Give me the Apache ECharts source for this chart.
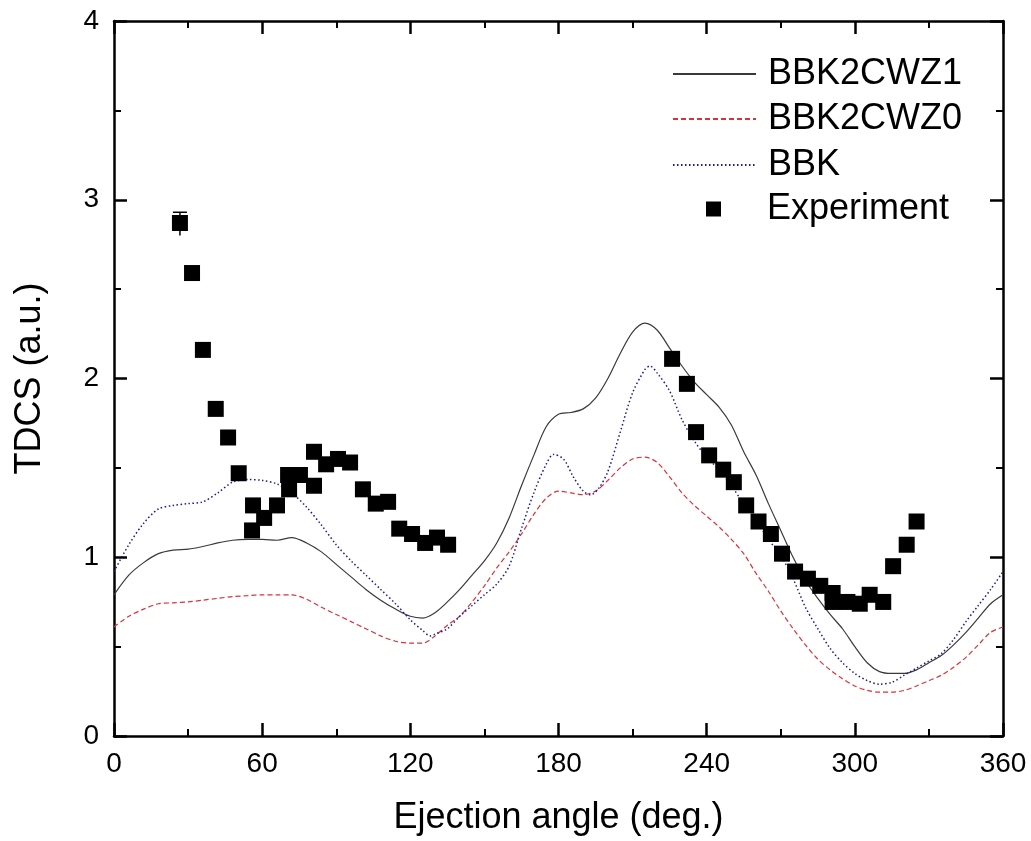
<!DOCTYPE html>
<html>
<head>
<meta charset="utf-8">
<script src="https://cdn.jsdelivr.net/npm/echarts@6/dist/echarts.min.js"></script>
<style>
html,body{margin:0;padding:0;background:#fff;}
#chart{width:1031px;height:841px;}
</style>
</head>
<body>
<div id="chart"></div>
<script>
// ---- data ----
const xTicks = [0, 60, 120, 180, 240, 300, 360];
const yTicks = [0, 1, 2, 3, 4];

const z1Angles = [0,6,12,18,24,30,36,42,48,54,60,66,72,78,84,90,96,102,108,114,120,125,130,135,140,145,150,155,160,165,170,175,180,185,190,195,200,205,210,215,220,225,230,235,240,245,250,255,260,265,270,275,280,285,290,295,300,305,310,315,320,325,330,335,340,345,350,355,360];
const z1Values = [0.79,0.90,0.97,1.02,1.04,1.045,1.06,1.08,1.095,1.10,1.10,1.095,1.11,1.08,1.03,0.96,0.89,0.82,0.76,0.71,0.67,0.66,0.69,0.75,0.82,0.90,0.98,1.08,1.22,1.40,1.57,1.73,1.80,1.81,1.83,1.89,2.00,2.14,2.26,2.31,2.27,2.17,2.07,1.98,1.91,1.84,1.74,1.59,1.46,1.30,1.15,1.00,0.87,0.77,0.68,0.60,0.50,0.41,0.36,0.35,0.35,0.37,0.41,0.45,0.51,0.58,0.66,0.74,0.79];

const z0Angles = [0,6,12,18,24,30,36,42,48,54,60,66,72,78,84,90,96,102,108,114,120,125,130,135,140,145,150,155,160,165,170,175,180,185,190,195,200,205,210,215,220,225,230,235,240,245,250,255,260,265,270,275,280,285,290,295,300,305,310,315,320,325,330,335,340,345,350,355,360];
const z0Values = [0.61,0.67,0.71,0.74,0.745,0.75,0.76,0.77,0.78,0.785,0.79,0.79,0.79,0.765,0.72,0.68,0.64,0.60,0.56,0.53,0.52,0.52,0.56,0.62,0.67,0.75,0.84,0.94,1.03,1.13,1.24,1.33,1.37,1.36,1.35,1.37,1.43,1.50,1.55,1.56,1.53,1.45,1.36,1.29,1.23,1.17,1.10,1.02,0.91,0.81,0.70,0.60,0.51,0.43,0.37,0.32,0.28,0.255,0.245,0.245,0.255,0.28,0.31,0.34,0.385,0.44,0.51,0.58,0.61];

const bbkAngles = [0,6,12,18,24,30,36,42,48,54,60,66,72,78,84,90,96,102,108,114,120,125,128,130,135,140,145,150,155,160,165,170,175,178,182,186,190,193,196,200,205,210,215,217,220,225,230,235,240,245,250,255,260,265,270,275,280,285,290,295,300,305,310,315,320,325,330,335,340,345,350,355,360];
const bbkValues = [0.92,1.07,1.19,1.27,1.29,1.30,1.31,1.36,1.42,1.435,1.43,1.41,1.36,1.28,1.18,1.07,0.98,0.90,0.82,0.74,0.65,0.59,0.56,0.57,0.60,0.67,0.73,0.79,0.85,0.95,1.16,1.36,1.52,1.575,1.55,1.45,1.37,1.35,1.38,1.48,1.70,1.92,2.05,2.07,2.03,1.93,1.77,1.65,1.56,1.49,1.40,1.30,1.21,1.10,1.01,0.88,0.72,0.60,0.49,0.41,0.35,0.31,0.29,0.30,0.34,0.38,0.42,0.46,0.54,0.64,0.73,0.82,0.92];

const expAngles = [26.7,31.6,36,41.2,46.2,50.5,55.9,56.3,60.8,66,70.9,70.5,75.3,81,81,85.9,90.7,95.6,100.8,106,111,115.5,120.7,126,130.8,135.3,226,232,235.7,241,246.7,251,256,261,266,270.5,275.8,281,286,291,291,297,302,306,311.5,315.5,321,325];
const expValues = [2.87,2.59,2.16,1.83,1.67,1.47,1.15,1.29,1.22,1.29,1.38,1.46,1.46,1.40,1.59,1.52,1.55,1.53,1.38,1.30,1.31,1.16,1.13,1.08,1.11,1.07,2.11,1.97,1.70,1.57,1.49,1.42,1.29,1.20,1.13,1.02,0.92,0.88,0.84,0.80,0.75,0.75,0.74,0.79,0.75,0.95,1.07,1.20];

// error bar (only visible one): angle, low, high
const errAngles = [26.7];
const errLow = [2.80];
const errHigh = [2.93];

// ---- build ----
const pairs = (xs, ys) => xs.map((x, i) => [x, ys[i]]);
const FONT = '"Liberation Sans", Arial, sans-serif';

const chart = echarts.init(document.getElementById('chart'), null, {renderer: 'canvas'});

const axisCommonX = {
  type: 'value', min: xTicks[0], max: xTicks[xTicks.length - 1], interval: 60,
  axisLine: {show: true, onZero: false, lineStyle: {color: '#000', width: 2.5}},
  axisTick: {show: true, inside: true, length: 13, lineStyle: {color: '#000', width: 2.5}},
  minorTick: {show: true, splitNumber: 2, length: 7, lineStyle: {color: '#000', width: 2}},
  splitLine: {show: false}
};
const axisCommonY = {
  type: 'value', min: yTicks[0], max: yTicks[yTicks.length - 1], interval: 1,
  axisLine: {show: true, onZero: false, lineStyle: {color: '#000', width: 2.5}},
  axisTick: {show: true, inside: true, length: 13, lineStyle: {color: '#000', width: 2.5}},
  minorTick: {show: true, splitNumber: 2, length: 7, lineStyle: {color: '#000', width: 2}},
  splitLine: {show: false}
};

const legendBase = {
  orient: 'vertical', padding: 0, itemGap: 0,
  textStyle: {fontFamily: FONT, fontSize: 36, color: '#000', lineHeight: 36},
  selectedMode: false
};
const lineLegend = (name, top) => Object.assign({}, legendBase, {
  left: 672, top: top, itemWidth: 83, itemHeight: 14,
  itemStyle: {opacity: 0},
  data: [name],
  textStyle: Object.assign({}, legendBase.textStyle, {padding: [0, 0, 0, 7]})
});

const option = {
  animation: false,
  backgroundColor: '#fff',
  grid: {left: 114, right: 28, top: 21, bottom: 104, containLabel: false},
  xAxis: [
    Object.assign({}, axisCommonX, {
      position: 'bottom',
      name: 'Ejection angle (deg.)', nameLocation: 'middle', nameGap: 64,
      nameTextStyle: {fontFamily: FONT, fontSize: 36, color: '#000'},
      axisLabel: {show: true, margin: 14, fontFamily: FONT, fontSize: 28, color: '#000'}
    }),
    Object.assign({}, axisCommonX, {position: 'top', axisLabel: {show: false}})
  ],
  yAxis: [
    Object.assign({}, axisCommonY, {
      position: 'left',
      name: 'TDCS (a.u.)', nameLocation: 'middle', nameGap: 66,
      nameTextStyle: {fontFamily: FONT, fontSize: 36, color: '#000'},
      axisLabel: {show: true, margin: 15, fontFamily: FONT, fontSize: 28, color: '#000'}
    }),
    Object.assign({}, axisCommonY, {position: 'right', axisLabel: {show: false}})
  ],
  legend: [
    lineLegend('BBK2CWZ1', 56),
    lineLegend('BBK2CWZ0', 101),
    lineLegend('BBK', 147),
    Object.assign({}, legendBase, {left: 706, top: 191, itemWidth: 15, itemHeight: 15,
      data: [{name: 'Experiment', icon: 'rect'}], textStyle: Object.assign({}, legendBase.textStyle, {padding: [0,0,0,41]})})
  ],
  series: [
    {
      name: 'BBK2CWZ1', type: 'line', data: pairs(z1Angles, z1Values),
      smooth: 0.3, symbol: 'none', showSymbol: false,
      lineStyle: {color: '#3a3a3a', width: 1.2, type: 'solid'},
      itemStyle: {color: '#3a3a3a'}, z: 3
    },
    {
      name: 'BBK2CWZ0', type: 'line', data: pairs(z0Angles, z0Values),
      smooth: 0.3, symbol: 'none', showSymbol: false,
      lineStyle: {color: '#d8333a', width: 1.2, type: [5, 3]},
      itemStyle: {color: '#d8333a'}, z: 3
    },
    {
      name: 'BBK', type: 'line', data: pairs(bbkAngles, bbkValues),
      smooth: 0.3, symbol: 'none', showSymbol: false,
      lineStyle: {color: '#1a1a9a', width: 1.5, type: [1.5, 2.5]},
      itemStyle: {color: '#1a1a9a'}, z: 3
    },
    {
      name: 'Experiment', type: 'scatter', data: pairs(expAngles, expValues),
      symbol: 'rect', symbolSize: 16,
      itemStyle: {color: '#000', opacity: 1}, z: 5
    },
    {
      name: 'err', type: 'custom',
      data: errAngles.map((a, i) => [a, errLow[i], errHigh[i]]),
      renderItem: function (params, api) {
        const lo = api.coord([api.value(0), api.value(1)]);
        const hi = api.coord([api.value(0), api.value(2)]);
        const w = 7;
        return {
          type: 'group',
          children: [
            {type: 'line', shape: {x1: hi[0], y1: hi[1], x2: lo[0], y2: lo[1]}, style: {stroke: '#000', lineWidth: 1.5}},
            {type: 'line', shape: {x1: hi[0] - w, y1: hi[1], x2: hi[0] + w, y2: hi[1]}, style: {stroke: '#000', lineWidth: 1.5}}
          ]
        };
      },
      z: 4
    }
  ]
};
chart.setOption(option);
</script>
</body>
</html>
